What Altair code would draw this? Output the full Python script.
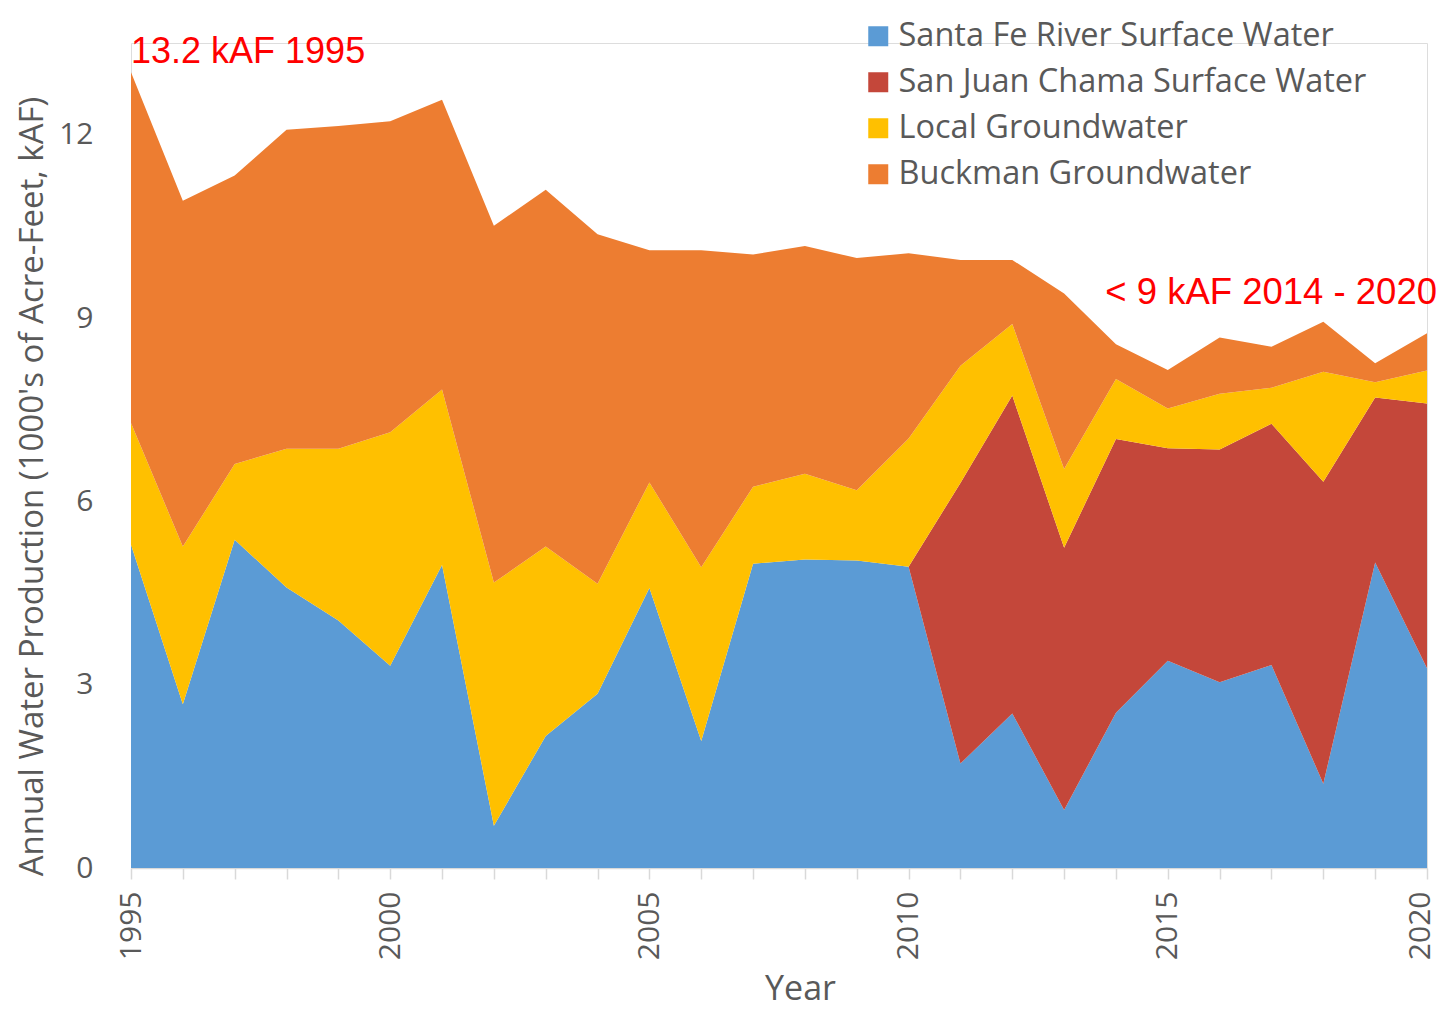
import altair as alt
import pandas as pd

years = list(range(1995, 2021))
santa_fe = [5.29, 2.68, 5.37, 4.59, 4.05, 3.31, 4.96, 0.69, 2.16, 2.85, 4.58, 2.08, 4.98,
            5.05, 5.03, 4.93, 1.71, 2.53, 0.95, 2.54, 3.39, 3.04, 3.32, 1.38, 5.00, 3.27]
san_juan = [0, 0, 0, 0, 0, 0, 0, 0, 0, 0, 0, 0, 0, 0, 0, 0,
            4.59, 5.20, 4.29, 4.48, 3.48, 3.81, 3.95, 4.94, 2.70, 4.33]
local_gw = [1.99, 2.58, 1.24, 2.27, 2.81, 3.82, 2.87, 3.98, 3.10, 1.80, 1.73, 2.84, 1.26,
            1.40, 1.15, 2.10, 1.92, 1.17, 1.29, 0.98, 0.65, 0.91, 0.59, 1.80, 0.25, 0.54]
buckman = [5.74, 5.66, 4.72, 5.22, 5.28, 5.09, 4.74, 5.84, 5.84, 5.72, 3.80, 5.19, 3.80,
           3.73, 3.80, 3.03, 1.73, 1.05, 2.87, 0.57, 0.63, 0.92, 0.67, 0.82, 0.31, 0.61]

series_names = ["Santa Fe River Surface Water", "San Juan Chama Surface Water",
                "Local Groundwater", "Buckman Groundwater"]
colors = ["#5B9BD5", "#C4473A", "#FFC000", "#ED7D31"]

note_years = [1995, 2020]
note_values = [13.36, 9.41]
note_texts = ["13.2 kAF 1995", "< 9 kAF 2014 - 2020"]

rows = []
for k, (name, vals) in enumerate(zip(series_names, [santa_fe, san_juan, local_gw, buckman])):
    for yr, v in zip(years, vals):
        rows.append({"Year": yr, "Value": v, "Source": name, "order": k})
df = pd.DataFrame(rows)

x_enc = alt.X("Year:Q",
              scale=alt.Scale(domain=[1995, 2020], nice=False, zero=False),
              axis=alt.Axis(values=years, format="d",
                            labelExpr="datum.value % 5 == 0 ? datum.label : ''",
                            labelAngle=-90, labelFont="Open Sans", labelFontSize=30,
                            labelColor="#595959", labelPadding=12,
                            labelOffset=alt.condition("datum.value == 2020",
                                                      alt.value(-7), alt.value(0)),
                            tickSize=11, tickColor="#D9D9D9", tickWidth=1.5,
                            domainColor="#D9D9D9", domainWidth=1.5, grid=False,
                            title="Year", titleFont="Open Sans", titleFontSize=34,
                            titleFontWeight="normal", titleColor="#595959",
                            titlePadding=13, titleX=669, titleAlign="center"))
y_enc = alt.Y("Value:Q", stack="zero",
              scale=alt.Scale(domain=[0, 13.5], nice=False),
              axis=alt.Axis(values=[0, 3, 6, 9, 12], format="d", domain=False, ticks=False,
                            grid=False,
                            labelFont="Open Sans", labelFontSize=30, labelColor="#595959",
                            labelPadding=38,
                            title="Annual Water Production (1000's of Acre-Feet, kAF)",
                            titleFont="Open Sans", titleFontSize=33, titleFontWeight="normal",
                            titleColor="#595959", titleAngle=-90, titleX=-99, titleY=443,
                            titleAlign="center", titleBaseline="middle"))

area = alt.Chart(df).mark_area(interpolate="linear").encode(
    x=x_enc,
    y=y_enc,
    color=alt.Color("Source:N",
                    scale=alt.Scale(domain=series_names, range=colors),
                    legend=alt.Legend(title=None, orient="none", legendX=731, legendY=-23,
                                      symbolType="square", symbolSize=400,
                                      symbolStrokeWidth=0, labelFont="Open Sans",
                                      labelFontSize=32.5, labelColor="#595959",
                                      labelOffset=4, rowPadding=13, labelLimit=0)),
    order=alt.Order("order:Q"),
)

notes = pd.DataFrame({"Year": note_years, "Value": note_values, "label": note_texts})

note1 = alt.Chart(notes.iloc[[0]]).mark_text(
    align="left", baseline="middle", font="Liberation Sans", fontSize=36, color="#FF0000"
).encode(x="Year:Q", y="Value:Q", text="label:N")
note2 = alt.Chart(notes.iloc[[1]]).mark_text(
    align="right", baseline="middle", font="Liberation Sans", fontSize=36.5, color="#FF0000", dx=10
).encode(x="Year:Q", y="Value:Q", text="label:N")

chart = alt.layer(area, note1, note2).properties(
    width=1296, height=825,
    autosize=alt.AutoSizeParams(type="none"),
    padding={"left": 123, "top": 35, "right": 13, "bottom": 146},
).configure_view(stroke=None).configure(background="white")

chart.save("out.html", embed_options={"renderer": "svg", "actions": False})
